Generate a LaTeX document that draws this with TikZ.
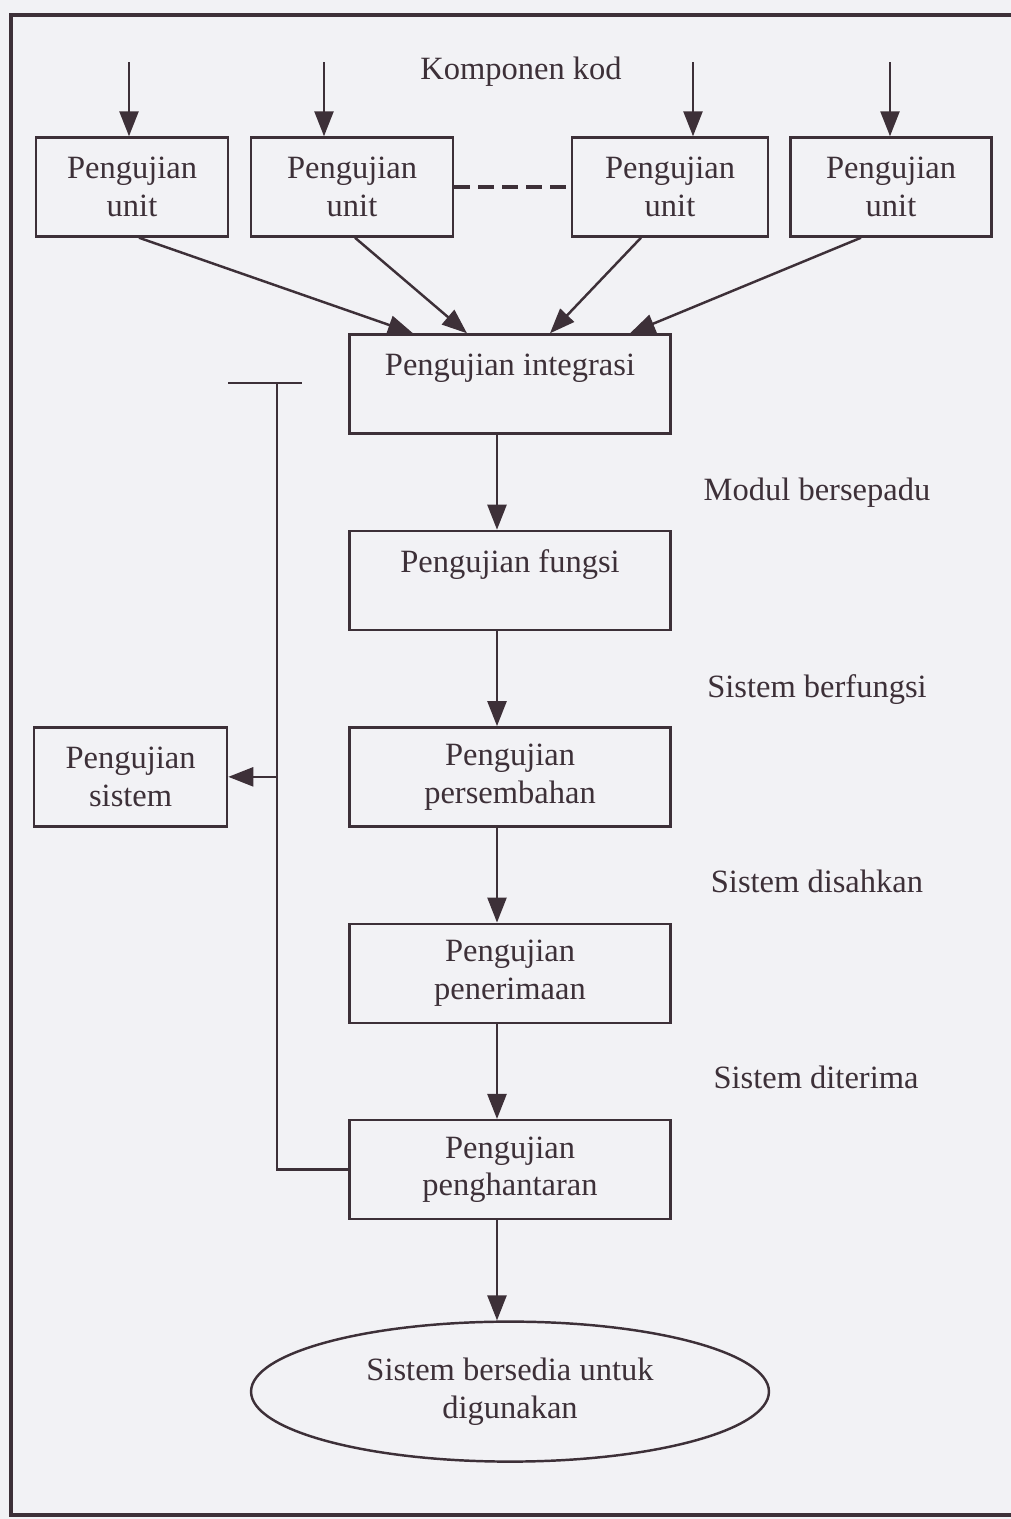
\documentclass[tikz,border=0pt]{standalone}
\usepackage{fontspec}
\setmainfont{Liberation Serif}
\usetikzlibrary{arrows.meta,calc,positioning,shapes.geometric}
\definecolor{inkplum}{rgb}{0.24,0.19,0.22}
\definecolor{scanwhite}{rgb}{0.95,0.95,0.96}
\tikzset{
  uji/.style={
    draw=inkplum,
    line width=1.4pt,
    align=center,
    minimum height=1.98cm,
    inner sep=2pt,
    text=inkplum,
    font=\fontsize{18.5}{21.5}\selectfont
  },
  unitbox/.style={
    uji,
    minimum width=3.96cm
  },
  tahap/.style={
    uji,
    minimum width=6.42cm
  },
  hasil/.style={
    ellipse,
    draw=inkplum,
    line width=1.4pt,
    align=center,
    minimum width=10.36cm,
    minimum height=2.8cm,
    inner sep=0pt,
    text=inkplum,
    font=\fontsize{18.5}{21.5}\selectfont
  },
  nota/.style={
    align=center,
    inner sep=0pt,
    text=inkplum,
    font=\fontsize{18.5}{21.5}\selectfont
  },
  garis/.style={
    line width=1.4pt,
    inkplum
  },
  arrow/.style={
    -{Triangle[length=5mm,width=3.8mm]},
    garis
  }
}
\begin{document}
\begin{tikzpicture}[x=0.02cm,y=-0.02cm,node distance=1.9cm]
\useasboundingbox (0,0) rectangle (1011,1519);
\fill[scanwhite] (0,0) rectangle (1011,1519);
\draw[inkplum, line width=2.8pt] (1011,15) -- (11,15) -- (11,1515) -- (1011,1515);

% komponen kod dan pengujian unit
\node[nota] (kod) at (521,72) {Komponen kod};
\node[unitbox, minimum width=3.84cm] (u1) at (132,187) {Pengujian\\unit};
\node[unitbox, minimum width=4.04cm] (u2) at (352,187) {Pengujian\\unit};
\node[unitbox, minimum width=3.92cm] (u3) at (670,187) {Pengujian\\unit};
\node[unitbox, minimum width=4.02cm] (u4) at (891,187) {Pengujian\\unit};
\draw[garis, line width=1.9pt, dash pattern=on 3.2mm off 1.6mm] (u2.east) -- (u3.west);
\foreach \n/\x in {u1/129, u2/324, u3/693, u4/890} {
  \coordinate (k\n) at (\x,62);
  \draw[arrow] (k\n) -- (k\n |- \n.north);
}

% rantai pengujian
\node[tahap] (int) at (510,384) {Pengujian integrasi\\ \mbox{}};
\node[tahap, below=of int] (fun) {Pengujian fungsi\\ \mbox{}};
\node[tahap, below=of fun] (per) {Pengujian\\persembahan};
\node[tahap, below=of per] (pen) {Pengujian\\penerimaan};
\node[tahap, below=of pen] (pgh) {Pengujian\\penghantaran};
\node[hasil, below=2cm of pgh] (sedia) {Sistem bersedia untuk\\digunakan};
\node[unitbox, minimum width=3.86cm, left=2.4cm of per] (sis) {Pengujian\\sistem};

\foreach \n/\a/\b in {u1/139/413, u2/355/467, u3/641/550, u4/861/630}
  \draw[arrow] (\n.south -| \a,0) -- (int.north -| \b,0);

\coordinate (spine) at (497,0);
\draw[arrow] (int.south -| spine) -- (fun.north -| spine);
\draw[arrow] (fun.south -| spine) -- (per.north -| spine);
\draw[arrow] (per.south -| spine) -- (pen.north -| spine);
\draw[arrow] (pen.south -| spine) -- (pgh.north -| spine);
\draw[arrow] (pgh.south -| spine) -- (sedia.north -| spine);

% label di kanan
\node[nota] (m1) at (817,493) {Modul bersepadu};
\node[nota] (m2) at (817,690) {Sistem berfungsi};
\node[nota] (m3) at (817,881) {Sistem disahkan};
\node[nota] (m4) at (816,1077) {Sistem diterima};

% laluan balik ke pengujian sistem
\coordinate (tbar) at (277,383);
\coordinate (tl) at (228,383);
\coordinate (tr) at (302,383);
\draw[garis] (tl) -- (tr);
\draw[garis] (pgh.west) -| (tbar);
\draw[arrow] (sis.east -| tbar) -- (sis.east);
\end{tikzpicture}
\end{document}
